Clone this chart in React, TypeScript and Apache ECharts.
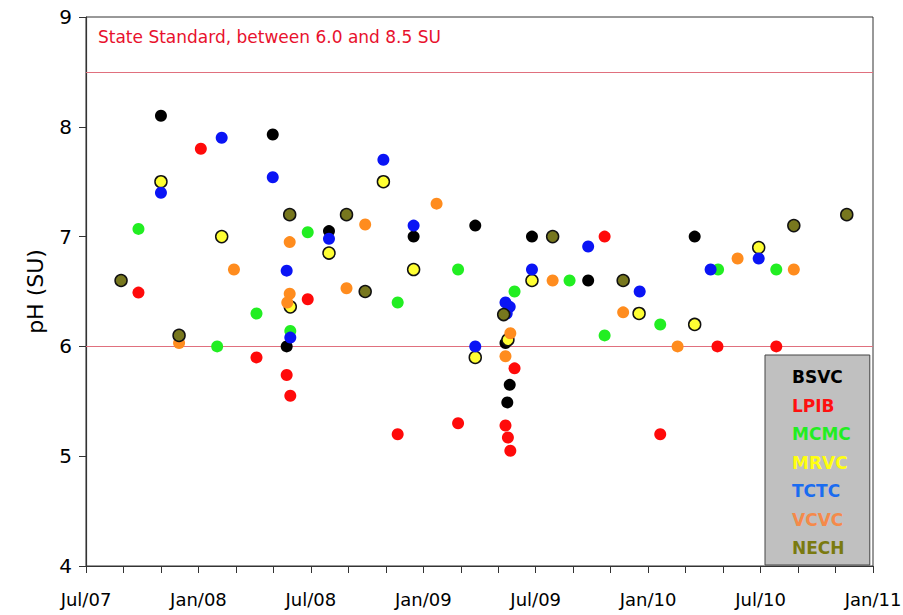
import React, { useEffect, useRef } from "react";
import * as echarts from "echarts";

// ---- Data (dates of sampling, pH in SU) ----
const bsvcDates = ["2007-11-01", "2008-04-30", "2008-05-23", "2008-07-31", "2008-12-16", "2009-03-25", "2009-05-13", "2009-05-20", "2009-05-16", "2009-06-25", "2009-09-25", "2010-03-16"];
const bsvcPH = [8.1, 7.93, 6.0, 7.05, 7.0, 7.1, 6.03, 5.65, 5.49, 7.0, 6.6, 7.0];

const lpibDates = ["2007-09-25", "2008-01-05", "2008-04-04", "2008-05-23", "2008-05-29", "2008-06-26", "2008-11-20", "2009-02-25", "2009-05-13", "2009-05-17", "2009-05-21", "2009-05-28", "2009-10-22", "2010-01-21", "2010-04-22", "2010-07-27"];
const lpibPH = [6.49, 7.8, 5.9, 5.74, 5.55, 6.43, 5.2, 5.3, 5.28, 5.17, 5.05, 5.8, 7.0, 5.2, 6.0, 6.0];

const mcmcDates = ["2007-09-25", "2008-02-01", "2008-04-04", "2008-05-29", "2008-06-26", "2008-11-20", "2009-02-25", "2009-05-28", "2009-08-26", "2009-10-22", "2010-01-21", "2010-04-23", "2010-07-27"];
const mcmcPH = [7.07, 6.0, 6.3, 6.14, 7.04, 6.4, 6.7, 6.5, 6.6, 6.1, 6.2, 6.7, 6.7];

const mrvcDates = ["2007-11-01", "2008-02-08", "2008-05-29", "2008-07-31", "2008-10-28", "2008-12-16", "2009-03-25", "2009-05-17", "2009-06-25", "2009-12-17", "2010-03-16", "2010-06-28"];
const mrvcPH = [7.5, 7.0, 6.36, 6.85, 7.5, 6.7, 5.9, 6.06, 6.6, 6.3, 6.2, 6.9];

const tctcDates = ["2007-11-01", "2008-02-08", "2008-04-30", "2008-05-23", "2008-05-29", "2008-07-31", "2008-10-28", "2008-12-16", "2009-03-25", "2009-05-13", "2009-05-20", "2009-05-15", "2009-06-25", "2009-09-25", "2009-12-18", "2010-04-11", "2010-06-28"];
const tctcPH = [7.4, 7.9, 7.54, 6.69, 6.08, 6.98, 7.7, 7.1, 6.0, 6.4, 6.36, 6.3, 6.7, 6.91, 6.5, 6.7, 6.8];

const vcvcDates = ["2007-11-30", "2008-02-27", "2008-05-28", "2008-05-28", "2008-05-24", "2008-08-29", "2008-09-28", "2009-01-23", "2009-05-21", "2009-05-13", "2009-07-29", "2009-11-21", "2010-02-17", "2010-05-25", "2010-08-25"];
const vcvcPH = [6.03, 6.7, 6.95, 6.48, 6.4, 6.53, 7.11, 7.3, 6.12, 5.91, 6.6, 6.31, 6.0, 6.8, 6.7];

const nechDates = ["2007-08-28", "2007-11-30", "2008-05-28", "2008-08-29", "2008-09-28", "2009-05-10", "2009-07-29", "2009-11-21", "2010-08-25", "2010-11-19"];
const nechPH = [6.6, 6.1, 7.2, 7.2, 6.5, 6.29, 7.0, 6.6, 7.1, 7.2];

const stationNames = ["BSVC", "LPIB", "MCMC", "MRVC", "TCTC", "VCVC", "NECH"];
const standardLimits = [6.0, 8.5];
const monthNames = ["Jan", "Feb", "Mar", "Apr", "May", "Jun", "Jul", "Aug", "Sep", "Oct", "Nov", "Dec"];

// months since 1 Jul 2007
function toMonths(d: string): number {
  const [y, m, day] = d.split("-").map(Number);
  const dim = new Date(y, m, 0).getDate();
  return (y - 2007) * 12 + (m - 7) + (day - 1) / dim;
}
function pairs(dates: string[], vals: number[]) {
  return dates.map((d, i) => [toMonths(d), vals[i]]);
}
function monthLabel(v: number): string {
  const r = Math.round(v);
  if (r % 6 !== 0) return "";
  const total = 6 + r; // month index from Jan 2007
  const y = 2007 + Math.floor(total / 12);
  const mi = total % 12;
  return monthNames[mi] + "/" + String(y).slice(2);
}

const FONT = "DejaVu Sans";

export default function App() {
  const ref = useRef<HTMLDivElement>(null);
  useEffect(() => {
    if (!ref.current) return;
    const chart = echarts.init(ref.current, null, { renderer: "svg" });
    const seriesData = [
      { name: "BSVC", data: pairs(bsvcDates, bsvcPH), color: "#000000", border: false },
      { name: "LPIB", data: pairs(lpibDates, lpibPH), color: "#ff0a0a", border: false },
      { name: "MCMC", data: pairs(mcmcDates, mcmcPH), color: "#22ee22", border: false },
      { name: "MRVC", data: pairs(mrvcDates, mrvcPH), color: "#ffff33", border: true },
      { name: "TCTC", data: pairs(tctcDates, tctcPH), color: "#0a14f5", border: false },
      { name: "VCVC", data: pairs(vcvcDates, vcvcPH), color: "#ff8c1e", border: false },
      { name: "NECH", data: pairs(nechDates, nechPH), color: "#77771e", border: true },
    ];
    const legendColors: Record<string, string> = {
      BSVC: "#000000",
      LPIB: "#ff1010",
      MCMC: "#22ee22",
      MRVC: "#ffff10",
      TCTC: "#1a6cf0",
      VCVC: "#f58a4a",
      NECH: "#7a7a10",
    };
    const series: any[] = seriesData.map((s, i) => ({
      type: "scatter",
      name: s.name,
      data: s.data,
      symbol: "circle",
      symbolSize: 12,
      itemStyle: {
        color: s.color,
        borderColor: s.border ? "#111" : s.color,
        borderWidth: s.border ? 1.5 : 0,
        opacity: 1,
      },
      z: 3,
      ...(i === 0
        ? {
            markLine: {
              silent: true,
              symbol: ["none", "none"],
              label: { show: false },
              lineStyle: { color: "#e0707e", width: 1, type: "solid" },
              data: standardLimits.map((v) => ({ yAxis: v })),
              z: 1,
            },
          }
        : {}),
    }));
    chart.setOption({
      animation: false,
      backgroundColor: "#ffffff",
      textStyle: { fontFamily: FONT },
      title: {
        text: "State Standard, between 6.0 and 8.5 SU",
        left: 93,
        top: 23,
        textStyle: { color: "#e8112d", fontSize: 17, fontWeight: "normal", fontFamily: FONT },
      },
      grid: {
        left: 86,
        right: 30,
        top: 17,
        bottom: 49,
        show: true,
        borderColor: "#333",
        borderWidth: 1,
        backgroundColor: "transparent",
        outerBoundsMode: "none",
      },
      xAxis: {
        type: "value",
        min: 0,
        max: 42,
        interval: 2,
        axisLine: { show: true, lineStyle: { color: "#333", width: 1.2 } },
        axisTick: { show: true, length: 7, lineStyle: { color: "#333" } },
        axisLabel: { formatter: monthLabel, fontSize: 18, color: "#000", margin: 24, fontFamily: FONT, showMaxLabel: true, showMinLabel: true },
        splitLine: { show: false },
      },
      yAxis: {
        type: "value",
        min: 4,
        max: 9,
        interval: 1,
        name: "pH (SU)",
        nameLocation: "middle",
        nameGap: 40,
        nameRotate: 90,
        nameTextStyle: { fontSize: 22, color: "#000", fontFamily: FONT },
        axisLine: { show: true, lineStyle: { color: "#333", width: 1.2 } },
        axisTick: { show: true, length: 7, lineStyle: { color: "#333" } },
        axisLabel: { fontSize: 20, color: "#000", margin: 14, fontFamily: FONT },
        splitLine: { show: false },
      },
      legend: {
        orient: "vertical",
        left: 765,
        top: 355,
        icon: "none",
        itemWidth: 0,
        itemHeight: 14,
        itemGap: 8.5,
        padding: [12, 19, 7, 22],
        backgroundColor: "#c0c0c0",
        borderColor: "#444",
        borderWidth: 1,
        selectedMode: false,
        textStyle: { fontSize: 17, fontWeight: "bold", lineHeight: 20, fontFamily: FONT },
        data: stationNames.map((n) => ({ name: n, textStyle: { color: legendColors[n] } })),
      },
      series,
    });
    return () => chart.dispose();
  }, []);
  return <div ref={ref} style={{ position: "absolute", left: 0, top: 0, width: 903, height: 615 }} />;
}
